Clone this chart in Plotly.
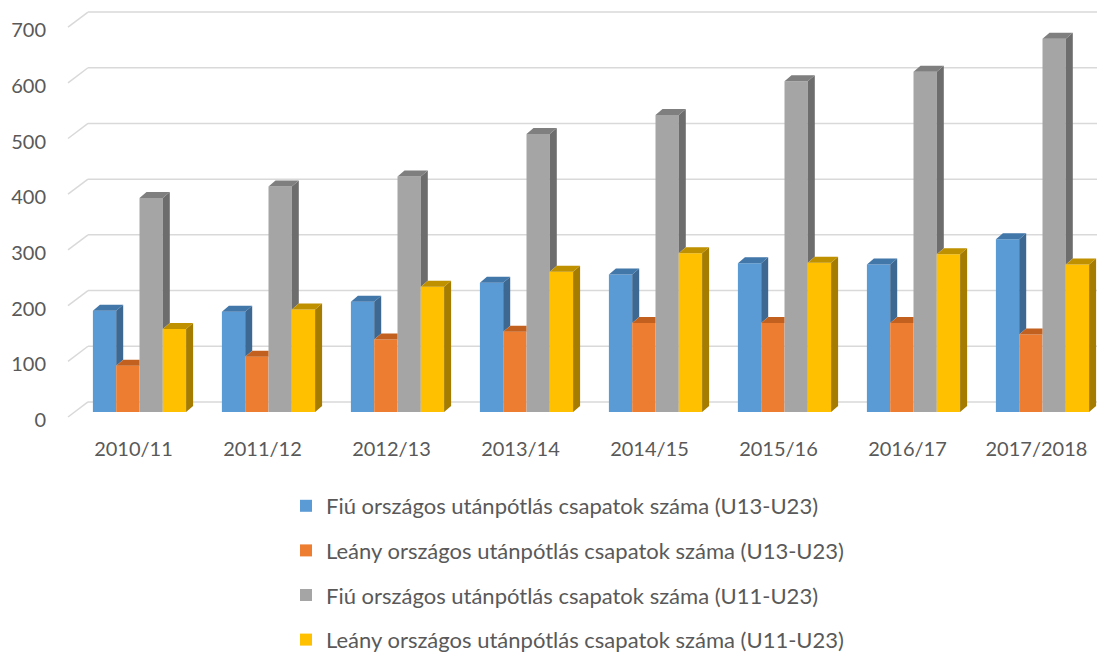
import plotly.graph_objects as go

categories = ["2010/11", "2011/12", "2012/13", "2013/14", "2014/15", "2015/16", "2016/17", "2017/2018"]
fiu_u13 = [182, 180, 198, 232, 247, 267, 265, 310]
leany_u13 = [83, 99, 130, 144, 160, 160, 160, 139]
fiu_u11 = [384, 405, 423, 499, 533, 594, 611, 670]
leany_u11 = [149, 184, 225, 252, 285, 268, 283, 265]
y_ticks = [0, 100, 200, 300, 400, 500, 600, 700]

series_names = [
    "Fiú országos utánpótlás csapatok száma (U13-U23)",
    "Leány országos utánpótlás csapatok száma (U13-U23)",
    "Fiú országos utánpótlás csapatok száma (U11-U23)",
    "Leány országos utánpótlás csapatok száma (U11-U23)",
]
series_values = [fiu_u13, leany_u13, fiu_u11, leany_u11]
front_colors = ["#5B9BD5", "#ED7D31", "#A5A5A5", "#FFC000"]
side_colors = ["#3C6891", "#B5581E", "#6D6D6D", "#A67C00"]
top_colors = ["#4277AA", "#C2601F", "#7F7F7F", "#BF9000"]

# page has an 8px body margin: figure pixel = page pixel - 8
OFF = 8
W, H = 1105 - OFF, 653 - OFF

PX_PER_UNIT_Y = 0.557
PX_PER_GROUP = 129.0
CENTER0 = 139.5 - OFF
BAR_W = 23.3 / PX_PER_GROUP
GROUP_W = 4 * BAR_W
DX = 7.0 / PX_PER_GROUP
DY = 6.0 / PX_PER_UNIT_Y

xs = list(range(len(categories)))
fig = go.Figure()

for k in range(4):
    fig.add_trace(go.Bar(
        x=xs, y=series_values[k], name=series_names[k],
        marker=dict(color=front_colors[k], line=dict(width=0)),
        legendgroup=str(k), hoverinfo="y",
    ))

for k in range(4):
    vals = series_values[k]
    nxt = series_values[k + 1] if k < 3 else [0] * len(vals)
    sx, sy, tx, ty = [], [], [], []
    for i, v in enumerate(vals):
        xl = i + (k - 2) * BAR_W
        xr = xl + BAR_W
        v1 = nxt[i] if k < 3 else 0
        if v > v1:
            sx += [xr, xr + DX, xr + DX, xr, xr, None]
            sy += [v1, v1 + DY, v + DY, v, v1, None]
        if k < 3 and v1 > v:
            tx += [xl, xr, xr, xl + DX, xl, None]
            ty += [v, v, v + DY, v + DY, v, None]
        else:
            tx += [xl, xr, xr + DX, xl + DX, xl, None]
            ty += [v, v, v + DY, v + DY, v, None]
    fig.add_trace(go.Scatter(x=sx, y=sy, mode="lines", fill="toself",
                             fillcolor=side_colors[k], line=dict(width=0, color=side_colors[k]),
                             showlegend=False, hoverinfo="skip"))
    fig.add_trace(go.Scatter(x=tx, y=ty, mode="lines", fill="toself",
                             fillcolor=top_colors[k], line=dict(width=0, color=top_colors[k]),
                             showlegend=False, hoverinfo="skip"))

# perspective gridlines (back wall)
left_px = 60 - OFF
x0 = (68 - OFF - CENTER0) / PX_PER_GROUP
x1 = (88 - OFF - CENTER0) / PX_PER_GROUP
x_range = [(left_px - CENTER0) / PX_PER_GROUP, (W - CENTER0) / PX_PER_GROUP]
front_off = -9.0
back_off = 18.0
shapes = []
for v in y_ticks:
    shapes.append(dict(type="line", xref="x", yref="y", x0=x0, y0=v + front_off, x1=x1, y1=v + back_off,
                       line=dict(color="#D9D9D9", width=1.5), layer="below"))
    shapes.append(dict(type="line", xref="x", yref="y", x0=x1, y0=v + back_off, x1=x_range[1], y1=v + back_off,
                       line=dict(color="#D9D9D9", width=1.5), layer="below"))

top_px, bottom_px, base_px = 0, 425 - OFF, 412 - OFF
y_range = [-(bottom_px - base_px) / PX_PER_UNIT_Y, (base_px - top_px) / PX_PER_UNIT_Y]

fig.update_layout(
    width=W, height=H,
    margin=dict(l=left_px, r=0, t=top_px, b=H - bottom_px, autoexpand=False),
    paper_bgcolor="white", plot_bgcolor="white",
    barmode="group", bargap=1 - GROUP_W, bargroupgap=0,
    font=dict(family="Lato", color="#595959", size=20),
    shapes=shapes,
    showlegend=True,
    legend=dict(orientation="v", xref="container", yref="container",
                x=278 / W, xanchor="left", y=1 - 477 / H, yanchor="top",
                tracegroupgap=13, font=dict(size=22, color="#595959"),
                bgcolor="rgba(0,0,0,0)"),
    xaxis=dict(range=x_range, tickmode="array",
               tickvals=[i - 0.047 for i in xs], ticktext=categories,
               showgrid=False, zeroline=False, showline=False, ticks="",
               tickangle=0,
               tickfont=dict(size=20, color="#595959"), ticklabelstandoff=10),
    yaxis=dict(range=y_range, tickmode="array", tickvals=y_ticks,
               showgrid=False, zeroline=False, showline=False, ticks="",
               tickfont=dict(size=20, color="#595959"), ticklabelshift=8,
               ticklabelstandoff=13),
)

fig.write_html("out.html")
